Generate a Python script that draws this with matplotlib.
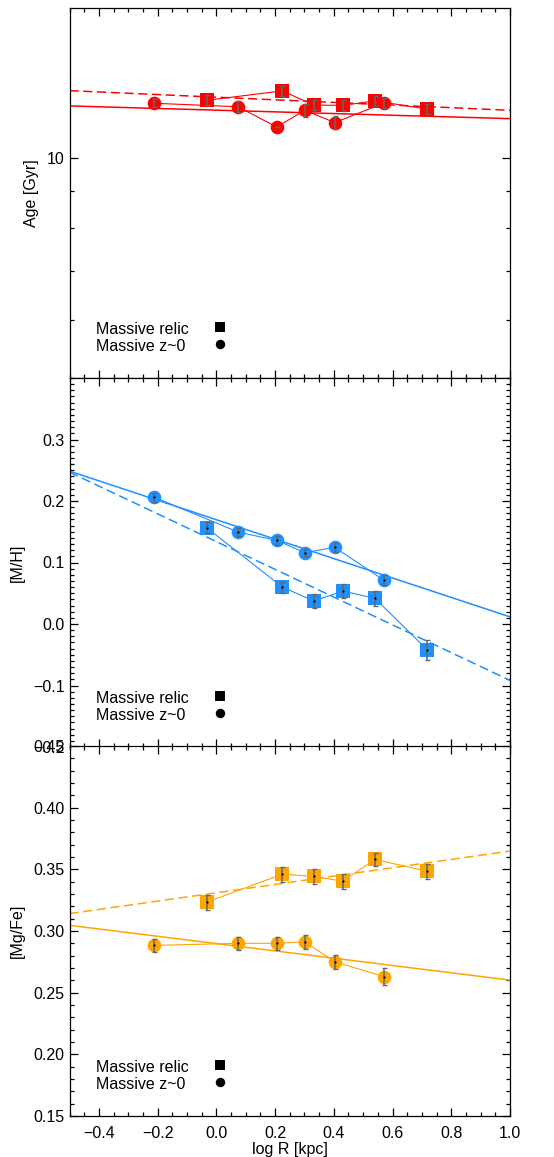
import numpy as np
import matplotlib
matplotlib.use("Agg")
import matplotlib.pyplot as plt
from matplotlib.ticker import FixedLocator, NullFormatter, MultipleLocator, FixedFormatter

plt.rcParams['font.family'] = ['Liberation Sans', 'DejaVu Sans']
plt.rcParams['axes.unicode_minus'] = True

# ---------------- data ----------------
# radii (log R [kpc])
logr_z0 = [-0.212, 0.074, 0.205, 0.302, 0.403, 0.570]
logr_relic = [-0.033, 0.225, 0.332, 0.431, 0.540, 0.719]

# Age [Gyr]
age_z0 = [11.86, 11.73, 11.01, 11.60, 11.16, 11.86]
age_z0_err = [0.15, 0.20, 0.0, 0.23, 0.22, 0.18]
age_relic = [11.97, 12.33, 11.79, 11.78, 11.95, 11.64]
age_relic_err = [0.19, 0.19, 0.19, 0.19, 0.19, 0.19]
age_fit_z0 = [11.607, -0.307]      # intercept, slope
age_fit_relic = [12.093, -0.493]

# [M/H]
mh_z0 = [0.2064, 0.1495, 0.136, 0.116, 0.1246, 0.0715]
mh_z0_err = [0.0073, 0.007, 0.007, 0.006, 0.007, 0.008]
mh_relic = [0.1566, 0.060, 0.0374, 0.0536, 0.0417, -0.0423]
mh_relic_err = [0.009, 0.009, 0.011, 0.011, 0.0125, 0.0157]
mh_fit_z0 = [0.1696, -0.158]
mh_fit_relic = [0.134, -0.2257]

# [Mg/Fe]
mgfe_z0 = [0.2883, 0.2900, 0.2900, 0.2911, 0.2751, 0.2631]
mgfe_z0_err = [0.0054, 0.0054, 0.0054, 0.0057, 0.0058, 0.0065]
mgfe_relic = [0.3233, 0.3461, 0.3442, 0.3404, 0.3580, 0.3485]
mgfe_relic_err = [0.0061, 0.0061, 0.006, 0.006, 0.0054, 0.0062]
mgfe_fit_z0 = [0.2898, -0.0296]
mgfe_fit_relic = [0.331, 0.0338]

legend_labels = ["Massive relic", "Massive z~0"]
xticks = [-0.4, -0.2, 0.0, 0.2, 0.4, 0.6, 0.8, 1.0]

RED = '#ff0000'
BLUE = '#1e90ff'
ORANGE = '#ffa500'
ERRC = '#666666'

W, H = 554, 1157
fig = plt.figure(figsize=(W / 100, H / 100), dpi=100)

left = 69.5 / W
width = (510 - 69.5) / W
panels = [(8, 378), (378, 747), (746, 1116)]
axes = []
for top, bot in panels:
    ax = fig.add_axes([left, 1 - bot / H, width, (bot - top) / H])
    axes.append(ax)

FS = 11.5
xfit = np.array([-0.5, 1.0])


def style(ax, show_xlabels):
    ax.set_xlim(-0.5, 1.0)
    ax.xaxis.set_major_locator(FixedLocator(xticks))
    ax.xaxis.set_minor_locator(MultipleLocator(0.05))
    ax.tick_params(which='both', direction='in', top=True, right=True,
                   labelsize=FS, width=0.9)
    ax.tick_params(which='major', length=6)
    ax.tick_params(which='minor', length=3.2)
    ax.tick_params(axis='y', pad=3.5)
    ax.tick_params(axis='x', pad=7)
    if not show_xlabels:
        ax.tick_params(axis='x', labelbottom=False)
    for s in ax.spines.values():
        s.set_linewidth(0.9)


def draw(ax, color, x1, y1, e1, x2, y2, e2, fit1, fit2, dots):
    # connecting lines
    ax.plot(x1, y1, '-', color=color, lw=0.8, zorder=2)
    ax.plot(x2, y2, '-', color=color, lw=0.8, zorder=2)
    # fits
    ax.plot(xfit, fit1[0] + fit1[1] * xfit, '-', color=color, lw=1.1, zorder=2)
    ax.plot(xfit, fit2[0] + fit2[1] * xfit, '--', color=color, lw=1.1,
            dashes=(6, 3), zorder=2)
    # markers
    ax.plot(x1, y1, 'o', color=color, ms=9.8, mew=0, zorder=3)
    ax.plot(x2, y2, 's', color=color, ms=10.0, mew=0, zorder=3)
    ax.errorbar(x1, y1, yerr=e1, fmt='none', ecolor=ERRC, elinewidth=1.1,
                capsize=1.8, capthick=1.0, zorder=4)
    ax.errorbar(x2, y2, yerr=e2, fmt='none', ecolor=ERRC, elinewidth=1.1,
                capsize=1.8, capthick=1.0, zorder=4)
    if dots:
        ax.plot(x1, y1, '.', color='k', ms=1.2, zorder=5)
        ax.plot(x2, y2, '.', color='k', ms=1.2, zorder=5)


def legend(ax):
    ys = [0.131, 0.085]
    ax.text(0.0595, ys[0], legend_labels[0], transform=ax.transAxes,
            fontsize=FS, va='center', ha='left')
    ax.text(0.0595, ys[1], legend_labels[1], transform=ax.transAxes,
            fontsize=FS, va='center', ha='left')
    ax.plot([0.3417], [ys[0] + 0.006], 's', color='k', ms=7.2, mew=0,
            transform=ax.transAxes)
    ax.plot([0.3417], [ys[1] + 0.006], 'o', color='k', ms=6.8, mew=0,
            transform=ax.transAxes)


# ---- top: age ----
ax = axes[0]
ax.set_yscale('log')
draw(ax, RED, logr_z0, age_z0, age_z0_err, logr_relic, age_relic, age_relic_err,
     age_fit_z0, age_fit_relic, False)
ax.set_ylim(5, 16)
ax.yaxis.set_major_locator(FixedLocator([10]))
ax.yaxis.set_major_formatter(FixedFormatter(['10']))
ax.yaxis.set_minor_locator(FixedLocator([6, 7, 8, 9]))
ax.yaxis.set_minor_formatter(NullFormatter())
style(ax, False)
ax.set_ylabel('Age [Gyr]', fontsize=FS, labelpad=6)
legend(ax)

# ---- middle: [M/H] ----
ax = axes[1]
draw(ax, BLUE, logr_z0, mh_z0, mh_z0_err, logr_relic, mh_relic, mh_relic_err,
     mh_fit_z0, mh_fit_relic, True)
ax.set_ylim(-0.2, 0.4)
ax.yaxis.set_major_locator(FixedLocator([-0.2, -0.1, 0.0, 0.1, 0.2, 0.3]))
ax.yaxis.set_minor_locator(MultipleLocator(0.01))
ax.yaxis.set_major_formatter(FixedFormatter(['\u22120.2', '\u22120.1', '0.0', '0.1', '0.2', '0.3']))
style(ax, False)
ax.set_ylabel('[M/H]', fontsize=FS, labelpad=6)
legend(ax)

# ---- bottom: [Mg/Fe] ----
ax = axes[2]
draw(ax, ORANGE, logr_z0, mgfe_z0, mgfe_z0_err, logr_relic, mgfe_relic, mgfe_relic_err,
     mgfe_fit_z0, mgfe_fit_relic, True)
ax.set_ylim(0.15, 0.45)
ax.yaxis.set_major_locator(FixedLocator([0.15, 0.20, 0.25, 0.30, 0.35, 0.40, 0.45]))
ax.yaxis.set_major_formatter(FixedFormatter(['0.15', '0.20', '0.25', '0.30', '0.35', '0.40', '0.45']))
ax.yaxis.set_minor_locator(MultipleLocator(0.01))
style(ax, True)
ax.set_xticklabels(['\u22120.4', '\u22120.2', '0.0', '0.2', '0.4', '0.6', '0.8', '1.0'])
ax.set_ylabel('[Mg/Fe]', fontsize=FS, labelpad=6)
ax.set_xlabel('log R [kpc]', fontsize=FS, labelpad=1)
legend(ax)

fig.savefig('out.png', dpi=100)
